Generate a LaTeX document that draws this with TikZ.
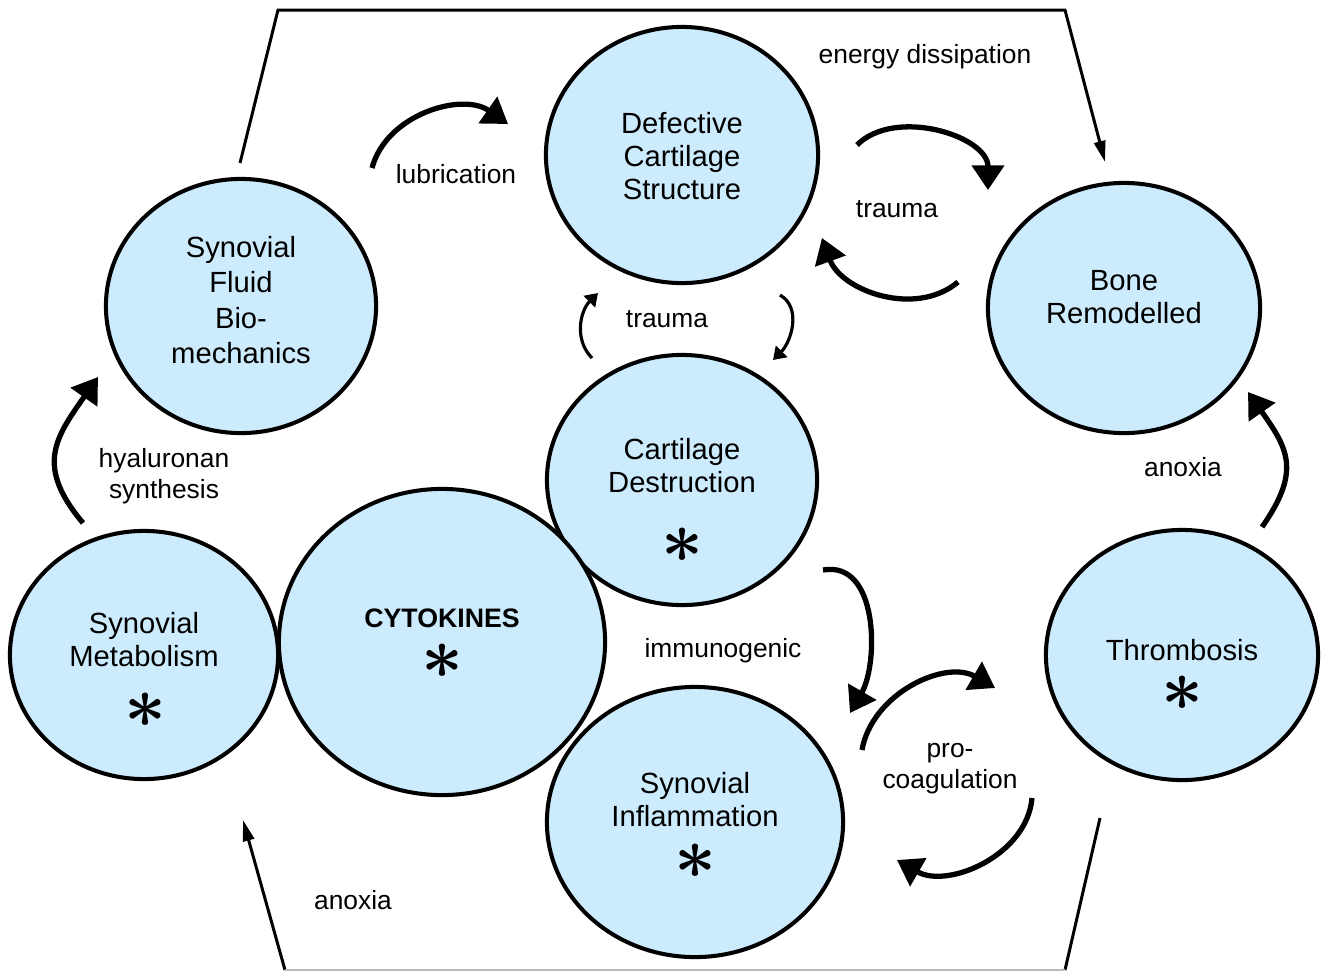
\documentclass[tikz,border=0pt]{standalone}
\usepackage{fontspec}
\setmainfont{Liberation Sans}
\usepackage{amsmath}
\usetikzlibrary{arrows.meta,shapes.geometric}
\definecolor{cellblue}{RGB}{204,235,253}

\begin{document}
\begin{tikzpicture}[x=0.01cm, y=-0.01cm,
  main node/.style={ellipse, draw, line width=1.15pt, fill=cellblue, inner sep=0pt},
  in text/.style={align=center, inner sep=0pt, font=\fontsize{8.3}{9.4}\selectfont},
  arc text/.style={align=center, font=\fontsize{7.5}{8.8}\selectfont},
  ast node/.style={inner sep=0pt, font=\fontsize{20.74}{21}\selectfont\boldmath},
  loop arrow/.style={line width=1.5pt, -{Triangle[length=7pt,width=9pt]}},
  small arrow/.style={line width=0.9pt, -{Triangle[length=3.5pt,width=4.5pt]}},
  frame line/.style={line width=0.85pt},
  frame arrow/.style={line width=0.85pt, -{Triangle[length=6pt,width=3.2pt]}}]

\useasboundingbox (0,0) rectangle (1327,972);

\node[main node, minimum width=2.72cm, minimum height=2.56cm] (dcs) at (682,155) {};
\node[main node, minimum width=2.70cm, minimum height=2.54cm] (sfb) at (241,306) {};
\node[main node, minimum width=2.72cm, minimum height=2.50cm] (bone) at (1124,308) {};
\node[main node, minimum width=2.70cm, minimum height=2.50cm] (cd) at (682,480) {};
\node[main node, minimum width=2.68cm, minimum height=2.48cm] (sm) at (144,655) {};
\node[main node, minimum width=3.26cm, minimum height=3.06cm] (cyto) at (442,642) {};
\node[main node, minimum width=2.96cm, minimum height=2.70cm] (si) at (695,822) {};
\node[main node, minimum width=2.72cm, minimum height=2.50cm] (thr) at (1182,655) {};

\node[in text] (dcs-t) at (682,156) {Defective\\Cartilage\\Structure};
\node[in text, font=\fontsize{8.3}{10.1}\selectfont] (sfb-t) at (241,300) {Synovial\\Fluid\\Bio-\\mechanics};
\node[in text] (bone-t) at (1124,297) {Bone\\Remodelled};
\node[in text] (cd-t) at (682,466) {Cartilage\\Destruction};
\node[in text] (sm-t) at (144,640) {Synovial\\Metabolism};
\node[in text, font=\fontsize{7.6}{9}\selectfont\bfseries] (cyto-t) at (442,618) {CYTOKINES};
\node[in text] (thr-t) at (1182,650) {Thrombosis};
\node[in text] (si-t) at (695,800) {Synovial\\Inflammation};

\node[ast node] (cd-a) at (682,545) {$\ast$};
\node[ast node] (sm-a) at (145,710) {$\ast$};
\node[ast node] (cyto-a) at (442,661) {$\ast$};
\node[ast node] (thr-a) at (1182,693) {$\ast$};
\node[ast node] (si-a) at (695,861) {$\ast$};

\node[arc text] (energy) at (925,57) {energy dissipation};
\node[arc text] (lub) at (456,174) {lubrication};
\node[arc text] (trauma1) at (897,209) {trauma};
\node[arc text] (trauma2) at (667,319) {trauma};
\node[arc text] (hyal) at (164,476) {hyaluronan\\synthesis};
\node[arc text] (anox1) at (1183,467) {anoxia};
\node[arc text] (immuno) at (723,651) {immunogenic};
\node[arc text] (procoag) at (950,769) {pro-\\coagulation};
\node[arc text] (anox2) at (353,900) {anoxia};

\coordinate (f1) at (240,163);
\coordinate (f2) at (278,10);
\coordinate (f3) at (1065,10);
\coordinate (f4) at (1105,162);
\coordinate (f5) at (243,820);
\coordinate (f6) at (285,970);
\coordinate (f7) at (1065,970);
\coordinate (f8) at (1100,818);

\draw[frame arrow] (f1) -- (f2) -- (f3) -- (f4);
\draw[frame arrow] (f6) -- (f5);
\draw[frame line] (f8) -- (f7);
\draw[gray!55, line width=0.5pt] (f6) -- (f7);

\coordinate (lub-s) at (372,168);
\coordinate (lub-e) at (508,124);
\coordinate (tr1-s) at (857,145);
\coordinate (tr1-e) at (988,190);
\coordinate (tr2-s) at (958,282);
\coordinate (tr2-e) at (822,238);
\coordinate (tr3-s) at (592,358);
\coordinate (tr3-e) at (598,293);
\coordinate (tr4-s) at (780,295);
\coordinate (tr4-e) at (773,360);
\coordinate (hy-s) at (83,523);
\coordinate (hy-e) at (98,377);
\coordinate (an-s) at (1262,527);
\coordinate (an-e) at (1248,392);
\coordinate (im-s) at (823,570);
\coordinate (im-e) at (850,713);
\coordinate (pc1-s) at (862,750);
\coordinate (pc1-e) at (995,688);
\coordinate (pc2-s) at (1032,798);
\coordinate (pc2-e) at (897,860);

\draw[loop arrow] (lub-s) to[out=75, in=145] (lub-e);
\draw[loop arrow] (tr1-s) to[out=45, in=90] (tr1-e);
\draw[loop arrow] (tr2-s) to[out=220, in=-70] (tr2-e);
\draw[small arrow] (tr3-s) to[out=135, in=225] (tr3-e);
\draw[small arrow] (tr4-s) to[out=-30, in=45] (tr4-e);
\draw[loop arrow] (hy-s) to[out=130, in=235, looseness=1.3] (hy-e);
\draw[loop arrow] (an-s) to[out=55, in=-55, looseness=1.3] (an-e);
\draw[loop arrow] (im-s) to[out=10, in=60] (im-e);
\draw[loop arrow] (pc1-s) to[out=80, in=150] (pc1-e);
\draw[loop arrow] (pc2-s) to[out=-95, in=-30] (pc2-e);

\end{tikzpicture}
\end{document}
